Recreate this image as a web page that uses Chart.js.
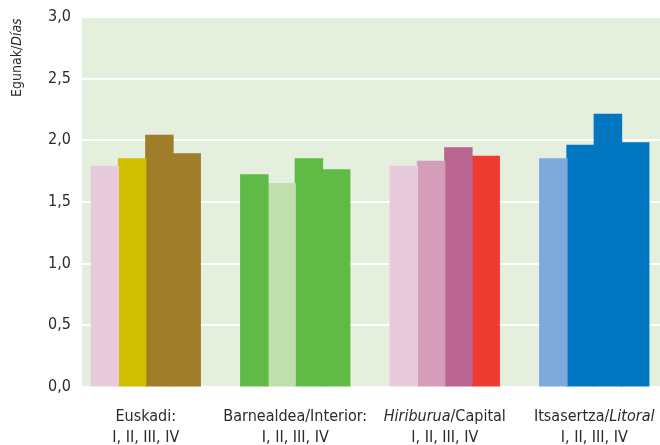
<!DOCTYPE html>
<html>
<head>
<meta charset="utf-8">
<script src="https://cdn.jsdelivr.net/npm/chart.js@4.4.1/dist/chart.umd.min.js"></script>
<style>
  html, body { margin: 0; padding: 0; background: #fff; overflow: hidden; }
  canvas { display: block; }
</style>
</head>
<body>
<canvas id="chart" width="670" height="445"></canvas>
<script>
// Datuak / datos
const categories = ['Euskadi', 'Barnealdea', 'Hiriburua', 'Itsasertza'];
const seriesNames = ['I', 'II', 'III', 'IV'];
const valuesI   = [1.79, 1.72, 1.79, 1.85];
const valuesII  = [1.85, 1.65, 1.83, 1.96];
const valuesIII = [2.04, 1.85, 1.94, 2.21];
const valuesIV  = [1.89, 1.76, 1.87, 1.98];
const yTicks = [0, 0.5, 1, 1.5, 2, 2.5, 3];

// colores por grupo (I, II, III, IV)
const colorsI   = ['#e8cbdb', '#60ba46', '#e8cbdb', '#7eaadb'];
const colorsII  = ['#cfbf00', '#c0dfad', '#d49dba', '#0077c0'];
const colorsIII = ['#a07d28', '#60ba46', '#bb6690', '#0077c0'];
const colorsIV  = ['#a07d28', '#60ba46', '#ee3b30', '#0077c0'];

// etiquetas del eje X: [texto, cursiva] por trozo
const xLabelLines = [
    [[['Euskadi:', false]], [['I, II, III, IV', false]]],
    [[['Barnealdea/Interior:', false]], [['I, II, III, IV', false]]],
    [[['Hiriburua', true], ['/Capital', false]], [['I, II, III, IV', false]]],
    [[['Itsasertza/', false], ['Litoral', true]], [['I, II, III, IV', false]]]
];

const FONT = '"Liberation Sans Narrow", "DejaVu Sans Condensed", "Roboto Condensed", sans-serif';
const TEXT = '#2b2b2b';

function drawParts(ctx, parts, x, y, size, align) {
    // mide el ancho total y dibuja los trozos seguidos
    let total = 0;
    parts.forEach(([t, it]) => {
        ctx.font = (it ? 'italic ' : '') + size + 'px ' + FONT;
        total += ctx.measureText(t).width;
    });
    let cx = align === 'center' ? x - total / 2 : (align === 'right' ? x - total : x);
    parts.forEach(([t, it]) => {
        ctx.font = (it ? 'italic ' : '') + size + 'px ' + FONT;
        ctx.fillText(t, cx, y);
        cx += ctx.measureText(t).width;
    });
}

const backgroundPlugin = {
    id: 'plotBackground',
    beforeDraw(chart) {
        const { ctx, chartArea } = chart;
        ctx.save();
        ctx.fillStyle = '#e4efde';
        ctx.fillRect(chartArea.left + 11, chartArea.top, chartArea.right - chartArea.left - 11, chartArea.bottom - chartArea.top);
        ctx.restore();
    }
};

const labelsPlugin = {
    id: 'customLabels',
    afterDraw(chart) {
        const { ctx, chartArea } = chart;
        const xScale = chart.scales.x;
        ctx.save();
        ctx.fillStyle = TEXT;
        ctx.textBaseline = 'middle';
        ctx.textAlign = 'left';
        xLabelLines.forEach((lines, i) => {
            const cx = xScale.getPixelForValue(i);
            drawParts(ctx, lines[0], cx, chartArea.bottom + 30, 16, 'center');
            drawParts(ctx, lines[1], cx, chartArea.bottom + 51, 16, 'center');
        });
        // título del eje Y
        ctx.translate(17, 97);
        ctx.rotate(-Math.PI / 2);
        drawParts(ctx, [['Egunak/', false], ['Días', true]], 0, 0, 14, 'left');
        ctx.restore();
    }
};

const ctx = document.getElementById('chart').getContext('2d');
const chart = new Chart(ctx, {
    type: 'bar',
    data: {
        labels: categories,
        datasets: [
            { label: seriesNames[0], data: valuesI, backgroundColor: colorsI },
            { label: seriesNames[1], data: valuesII, backgroundColor: colorsII },
            { label: seriesNames[2], data: valuesIII, backgroundColor: colorsIII },
            { label: seriesNames[3], data: valuesIV, backgroundColor: colorsIV }
        ]
    },
    options: {
        responsive: false,
        animation: false,
        layout: { padding: { top: 17, bottom: 50, left: 0, right: 1 } },
        datasets: {
            bar: { categoryPercentage: 0.73, barPercentage: 1.0, borderWidth: 0, inflateAmount: 0.6 }
        },
        plugins: {
            legend: { display: false },
            tooltip: { enabled: false }
        },
        scales: {
            x: {
                grid: { display: false },
                border: { display: false },
                ticks: { display: false }
            },
            y: {
                min: 0,
                max: 3,
                afterBuildTicks: (scale) => { scale.ticks = yTicks.map(v => ({ value: v })); },
                afterFit: (scale) => { scale.width = 71; },
                grid: { color: '#ffffff', lineWidth: 2, drawTicks: false },
                border: { display: false },
                ticks: {
                    color: TEXT,
                    padding: 0,
                    font: { family: FONT, size: 16 },
                    callback: (v) => v.toFixed(1).replace('.', ',')
                }
            }
        }
    },
    plugins: [backgroundPlugin, labelsPlugin]
});
</script>
</body>
</html>
